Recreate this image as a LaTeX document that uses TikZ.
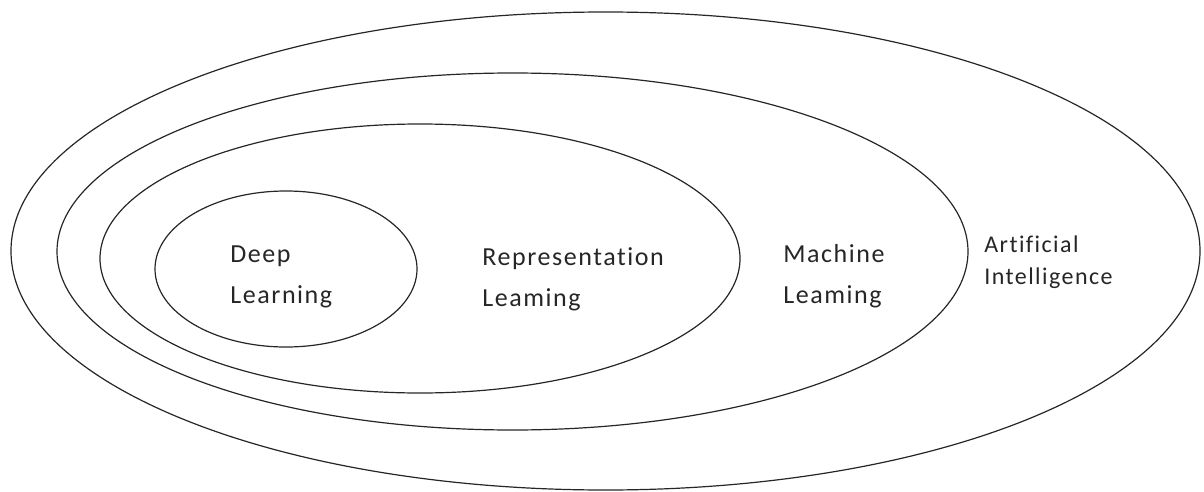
\documentclass[tikz,border=0pt]{standalone}
\usepackage{fontspec}
\setmainfont{Carlito}[Ligatures=CommonOff,LetterSpace=6]
\usetikzlibrary{shapes.geometric}
\begin{document}
\begin{tikzpicture}[x=1pt,y=-1pt,thick,
	ring/.style={ellipse,draw=black!85,line width=1.2pt,inner sep=0pt,outer sep=0pt},
	tag/.style={anchor=west,align=left,inner sep=0pt,text=black!85,font=\fontsize{26}{41}\selectfont},
	smalltag/.style={tag,font=\fontsize{24}{32}\selectfont}]
		\useasboundingbox (0,0) rectangle (1204,492);
		% nested sets
		\node[ring,minimum width=1189pt,minimum height=478pt] (ai) at (605.5,251) {};
		\node[ring,minimum width=911pt,minimum height=357pt] (ml) at (512.5,251.5) {};
		\node[ring,minimum width=640pt,minimum height=269pt] (rl) at (420,258.5) {};
		\node[ring,minimum width=262pt,minimum height=156pt] (dl) at (286,269) {};
		
		\node[tag] (dltext) at (230,277) {Deep\\Learning};
		\node[tag] (rltext) at (482,279) {Representation\\Leaming};
		\node[tag] (mltext) at (783,276) {Machine\\Leaming};
		\node[smalltag] (aitext) at (984,262) {Artificial\\Intelligence};
		\end{tikzpicture}
\end{document}
